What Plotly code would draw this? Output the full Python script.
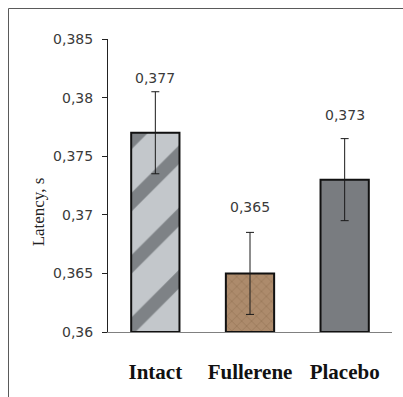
import plotly.graph_objects as go

# Mean response latency per group, with the spread shown as error bars
groups = ["Intact", "Fullerene", "Placebo"]
latency = [0.377, 0.365, 0.373]
spread = [0.0035, 0.0035, 0.0035]
value_labels = ["0,377", "0,365", "0,373"]

y_ticks = [0.36, 0.365, 0.37, 0.375, 0.38, 0.385]
y_tick_labels = ["0,36", "0,365", "0,37", "0,375", "0,38", "0,385"]

W, H = 403, 397
L, R, T, B = 108, 11, 39, 65
pw, ph = W - L - R, H - T - B

fig = go.Figure()

bar_fills = [
    dict(shape="/", bgcolor="#c3c7cb", fgcolor="#3a3e42", size=44, solidity=0.3),
    dict(shape="x", bgcolor="#ad8b6c", fgcolor="#7f5d40", size=7, solidity=0.18),
    dict(shape="", bgcolor="#797c80", fgcolor="#797c80"),
]
colors = ["#c3c7cb", "#ad8b6c", "#797c80"]

for g, v, e, c, p in zip(groups, latency, spread, colors, bar_fills):
    fig.add_trace(go.Bar(
        x=[g], y=[v - 0.36], base=0.36,
        marker=dict(color=c, line=dict(color="#111111", width=2), pattern=p),
        error_y=dict(type="data", array=[e], color="#1a1a1a", thickness=1, width=4),
        showlegend=False,
    ))

# value labels above each error bar
shifts = [14, 25, 24]
for g, v, e, t, s in zip(groups, latency, spread, value_labels, shifts):
    fig.add_annotation(x=g, y=v + e, text=t, showarrow=False, yshift=s,
                       font=dict(family="DejaVu Sans", size=14, color="#3a3a3a"))

# y axis title
fig.add_annotation(x=0, y=0.41, xref="paper", yref="paper", xshift=-81,
                   text="Latency, s", textangle=-90, showarrow=False,
                   font=dict(family="Liberation Serif", size=17, color="#222222"))

# outer chart frame
fig.add_shape(type="rect", xref="paper", yref="paper",
              x0=(8.5 - L) / pw, x1=(W + 20 - L) / pw,
              y0=(H - B - (H + 20)) / ph, y1=(H - B - 8.5) / ph,
              line=dict(color="#5a5a5a", width=1), fillcolor="rgba(0,0,0,0)", layer="below")

fig.update_layout(
    width=W, height=H,
    margin=dict(l=L, r=R, t=T, b=B),
    paper_bgcolor="white", plot_bgcolor="white",
    bargap=0.49, barmode="overlay",
    showlegend=False,
)
fig.update_yaxes(
    range=[0.36, 0.385], tickvals=y_ticks, ticktext=y_tick_labels,
    showgrid=False, zeroline=False,
    showline=True, linecolor="#222222", linewidth=1,
    ticks="outside", ticklen=5, tickcolor="#222222",
    tickfont=dict(family="DejaVu Sans", size=14, color="#3a3a3a"),
    ticklabelstandoff=6,
)
fig.update_xaxes(
    categoryorder="array", categoryarray=groups,
    showgrid=False, showline=True, linecolor="#808080", linewidth=1,
    ticks="", ticklabelstandoff=21,
    tickfont=dict(family="Liberation Serif", size=21, color="#111111", weight="bold"),
)

fig.write_html("out.html")
